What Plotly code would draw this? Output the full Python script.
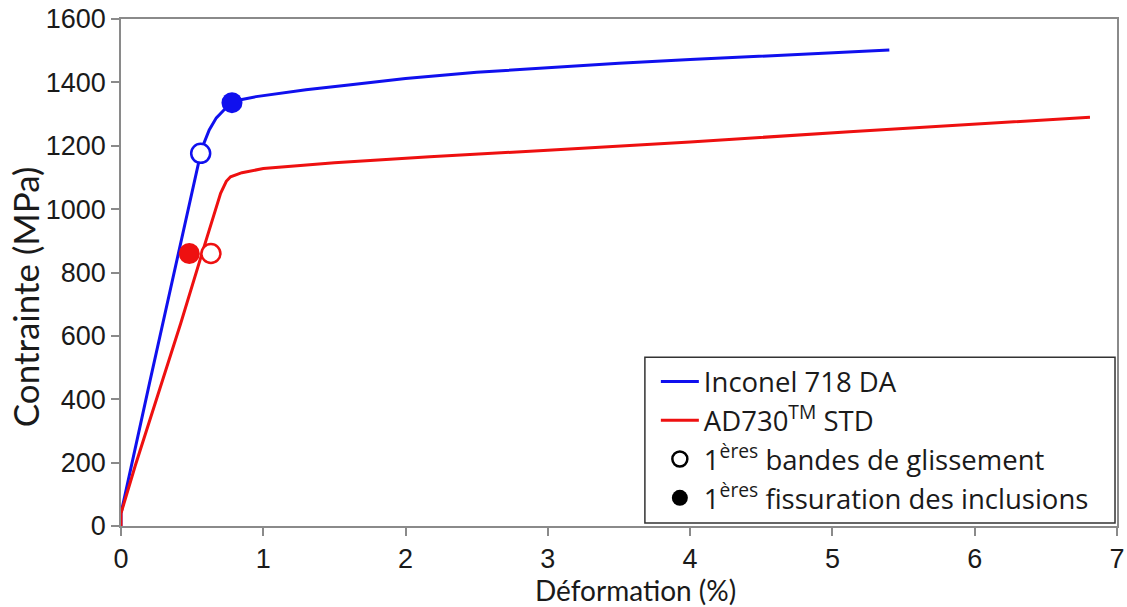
import plotly.graph_objects as go

# Data
inconel_strain = [0, 0, 0.2, 0.41, 0.52, 0.56, 0.58, 0.62, 0.67, 0.73, 0.78, 0.85, 0.95, 1.1, 1.3, 1.6, 2.0, 2.5, 3.0, 3.5, 4.0, 4.5, 5.0, 5.4]
inconel_stress = [0, 40, 450, 875, 1100, 1176, 1205, 1250, 1288, 1316, 1334, 1346, 1355, 1365, 1377, 1392, 1412, 1432, 1447, 1460, 1472, 1483, 1493, 1502]

ad730_strain = [0, 0, 0.1, 0.25, 0.42, 0.57, 0.70, 0.74, 0.77, 0.85, 1.0, 1.5, 2.17, 3.0, 4.0, 5.12, 6.0, 6.81]
ad730_stress = [0, 40, 190, 400, 640, 861, 1050, 1088, 1102, 1115, 1128, 1146, 1165, 1186, 1212, 1244, 1268, 1290]

# Event markers
slip_strain = [0.56, 0.632]        # 1ères bandes de glissement (open)
slip_stress = [1176, 860]
crack_strain = [0.78, 0.48]        # 1ères fissuration des inclusions (filled)
crack_stress = [1336, 860]

x_ticks = [0, 1, 2, 3, 4, 5, 6, 7]
y_ticks = [0, 200, 400, 600, 800, 1000, 1200, 1400, 1600]

BLUE = "#1010ee"
RED = "#ee1010"
marker_colors = [BLUE, RED]
TXT = "#1a1a1a"

fig = go.Figure()
fig.add_trace(go.Scatter(x=inconel_strain, y=inconel_stress, mode="lines",
                         line=dict(color=BLUE, width=3), name="Inconel 718 DA"))
fig.add_trace(go.Scatter(x=ad730_strain, y=ad730_stress, mode="lines",
                         line=dict(color=RED, width=3), name="AD730<sup>TM</sup> STD"))
fig.add_trace(go.Scatter(x=slip_strain, y=slip_stress, mode="markers", showlegend=False,
                         marker=dict(symbol="circle", size=19, color="white",
                                     line=dict(color=marker_colors, width=2.5))))
fig.add_trace(go.Scatter(x=crack_strain, y=crack_stress, mode="markers", showlegend=False,
                         marker=dict(symbol="circle", size=21, color=marker_colors,
                                     line=dict(color=marker_colors, width=0))))
# legend-only entries
fig.add_trace(go.Scatter(x=[None], y=[None], mode="markers",
                         name="1<sup>ères</sup> bandes de glissement",
                         marker=dict(symbol="circle", size=15, color="white",
                                     line=dict(color="black", width=2.5))))
fig.add_trace(go.Scatter(x=[None], y=[None], mode="markers",
                         name="1<sup>ères</sup> fissuration des inclusions",
                         marker=dict(symbol="circle", size=18, color="black",
                                     line=dict(color="black", width=0))))

axis_common = dict(showline=True, linecolor="#8a8a8a", linewidth=1.5, mirror=True,
                   ticks="outside", ticklen=8, tickwidth=1.5, tickcolor="#8a8a8a",
                   showgrid=False, zeroline=False, automargin=False,
                   ticklabeloverflow="allow",
                   tickfont=dict(family="Liberation Sans, Arial", size=27, color=TXT))

fig.update_layout(
    width=1127, height=607,
    margin=dict(l=121, r=10, t=19, b=81),
    paper_bgcolor="white", plot_bgcolor="white",
    xaxis=dict(range=[0, 7], tickvals=x_ticks, **axis_common),
    yaxis=dict(range=[0, 1600], tickvals=y_ticks, **axis_common),
    legend=dict(x=0.537, y=0.333, xanchor="left", yanchor="top",
                bgcolor="rgba(0,0,0,0)", borderwidth=0,
                font=dict(family="Open Sans, Lato", size=27.5, color=TXT),
                itemwidth=38, tracegroupgap=0),
    shapes=[
        dict(type="rect", xref="paper", yref="paper", x0=0.526, x1=0.998, y0=0.006, y1=0.333,
             line=dict(color="#333333", width=1.5), fillcolor="white", layer="above"),
    ],
    annotations=[
        dict(text="Déformation (%)", xref="paper", yref="paper", x=0.517, y=-0.126,
             xanchor="center", yanchor="middle", showarrow=False,
             font=dict(family="Lato, Open Sans", size=28, color=TXT)),
        dict(text="Contrainte (MPa)", xref="paper", yref="paper", x=-0.097, y=0.452,
             xanchor="center", yanchor="middle", showarrow=False, textangle=-90,
             font=dict(family="Lato, Open Sans", size=35, color=TXT)),
    ],
)

fig.write_html("out.html", config={"displayModeBar": False},
               post_script="document.body.style.margin='0';document.body.style.overflow='hidden';")
